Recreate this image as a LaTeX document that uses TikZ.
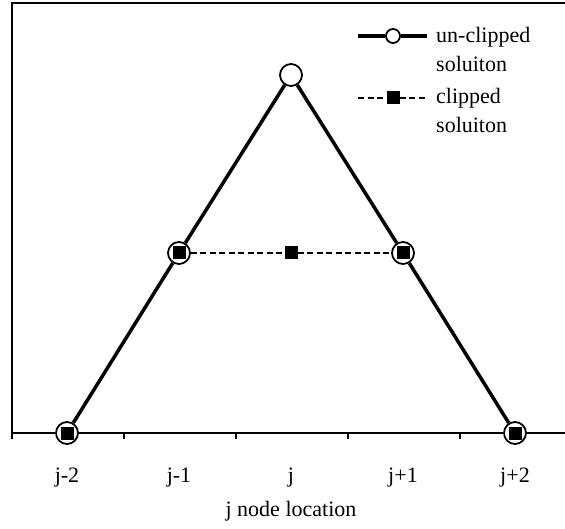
\documentclass[tikz,border=0pt]{standalone}
\usepackage{fontspec}
\setmainfont{Liberation Serif}
\usetikzlibrary{positioning}

\begin{document}
\begin{tikzpicture}[
  x=1pt, y=-1pt,
  font=\fontsize{22}{29}\selectfont,
  axisline/.style={line width=1.8pt},
  unclipped/.style={line width=3.5pt},
  clipped/.style={line width=1.4pt, dash pattern=on 6pt off 3.5pt},
  opendot/.style={circle, draw, line width=1.8pt, fill=white, minimum size=22pt, inner sep=0pt},
  filledsq/.style={rectangle, fill=black, minimum size=13pt, inner sep=0pt},
  ticklabel/.style={anchor=base, inner sep=0pt},
  legendtext/.style={anchor=base west, align=left, inner sep=0pt},
]
\useasboundingbox (0,0) rectangle (565,529);

% Frame and category axis
\coordinate (topleft)  at (12,3);
\coordinate (topright) at (565,3);
\coordinate (origin)   at (12,433);
\coordinate (axisend)  at (565,433);
\draw[axisline] (topright) -- (topleft) -- (origin) -- (axisend);
\foreach \t in {0,...,4} {
  \draw[axisline] (12+112*\t,433) -- (12+112*\t,439);
}

% Tick labels
\foreach \lab [count=\i from 0] in {j-2, j-1, j, j+1, j+2} {
  \node[ticklabel] (tick\i) at (67+112*\i,482) {\lab};
}
\node[ticklabel] (xlabel) at (291,516) {j node location};

% Un-clipped solution
\node[opendot] (u0) at (67,433) {};
\node[opendot] (u1) at (179,253) {};
\node[opendot] (u2) at (291,75)  {};
\node[opendot] (u3) at (403,253) {};
\node[opendot] (u4) at (515,433) {};
\draw[unclipped] (u0) -- (u1) -- (u2) -- (u3) -- (u4);

% Clipped solution
\node[filledsq] (c0) at (u0.center) {};
\node[filledsq] (c1) at (u1.center) {};
\node[filledsq] (c2) at (291,253)  {};
\node[filledsq] (c3) at (u3.center) {};
\node[filledsq] (c4) at (u4.center) {};
\draw[clipped] (u1) -- (c2) -- (u3);

% Legend
\coordinate (lu1) at (358,36);
\coordinate (lu2) at (427,36);
\node[opendot, minimum size=14pt] (lu) at (393,36) {};
\draw[unclipped] (lu1) -- (lu) -- (lu2);
\node[legendtext] (ltext1) at (436,72) {un-clipped\\soluiton};

\coordinate (lc1) at (358,98);
\coordinate (lc2) at (427,98);
\node[filledsq] (lc) at (393,98) {};
\draw[clipped] (lc1) -- (lc) -- (lc2);
\node[legendtext] (ltext2) at (436,133) {clipped\\soluiton};
\end{tikzpicture}
\end{document}
